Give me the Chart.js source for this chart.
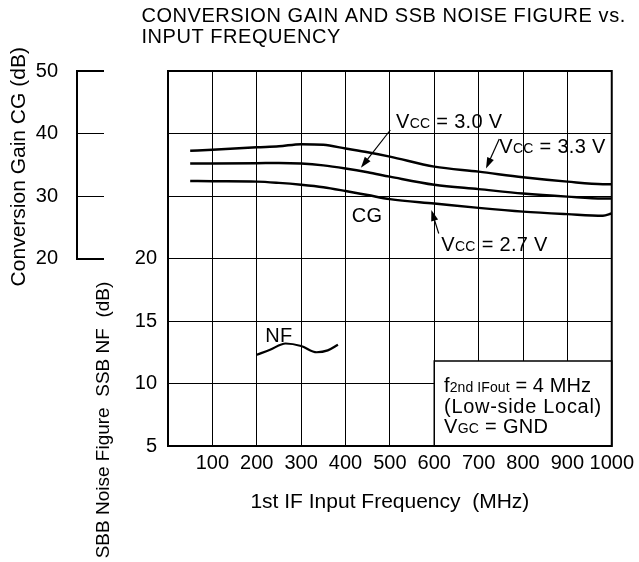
<!DOCTYPE html>
<html><head><meta charset="utf-8">
<script src="https://cdn.jsdelivr.net/npm/chart.js@4"></script>
<style>html,body{margin:0;padding:0;background:#fff}</style>
</head><body>
<canvas id="c" width="639" height="562"></canvas>
<script>
// ---- data ----
const freqs = [50, 100, 200, 250, 300, 350, 400, 450, 500, 600, 700, 800, 900, 980, 1000];
const cgVcc33 = [37.25, 37.4, 37.8, 37.95, 38.3, 38.2, 37.6, 37.0, 36.3, 34.7, 33.9, 33.0, 32.3, 31.9, 31.9];
const cgVcc30 = [35.2, 35.2, 35.25, 35.3, 35.2, 34.9, 34.4, 33.8, 33.1, 31.8, 31.1, 30.4, 29.9, 29.6, 29.6];
const cgVcc27 = [32.4, 32.35, 32.3, 32.1, 31.8, 31.4, 30.8, 30.15, 29.5, 28.8, 28.1, 27.5, 27.1, 26.85, 27.2];
const nfFreqs = [200, 230, 265, 300, 335, 360, 383];
const nfValues = [12.3, 12.7, 13.2, 13.0, 12.5, 12.65, 13.1];
const xTickValues = [100, 200, 300, 400, 500, 600, 700, 800, 900, 1000];
const nfTickValues = [5, 10, 15, 20];
const cgTickValues = [20, 30, 40, 50];
const titleLines = ['CONVERSION GAIN AND SSB NOISE FIGURE vs.', 'INPUT FREQUENCY'];
const xTitle = '1st IF Input Frequency  (MHz)';
const cgTitle = 'Conversion Gain CG (dB)';
const nfTitle = 'SBB Noise Figure  SSB NF  (dB)';

const FONT = '"Liberation Sans", Arial, Helvetica, sans-serif';
Chart.defaults.font.family = FONT;
Chart.defaults.font.size = 20;
Chart.defaults.color = '#000';

const toPts = (xs, ys) => xs.map((x, i) => ({x: x, y: ys[i]}));
const lineStyle = {borderColor: '#000', borderWidth: 2.5, pointRadius: 0, fill: false, cubicInterpolationMode: 'monotone'};

// annotation positions in data units
const notes = [
  {axis: 'cg', x: 513.8, y: 40.88, ls: 0.3, parts: [['V', 20], ['CC', 14], [' = 3.0 V', 20]]},
  {axis: 'cg', x: 746.5, y: 36.83, ls: 0.3, parts: [['V', 20], ['CC', 14], [' = 3.3 V', 20]]},
  {axis: 'cg', x: 413.9, y: 25.89, ls: 0.3, parts: [['CG', 20]]},
  {axis: 'cg', x: 615.9, y: 21.2, ls: 0.3, parts: [['V', 20], ['CC', 14], [' = 2.7 V', 20]]},
  {axis: 'nf', x: 219.2, y: 13.34, ls: 0.3, parts: [['NF', 20]]},
  {axis: 'nf', x: 622, y: 9.34, ls: 0.1, parts: [['f', 20], ['2nd IFout', 14], [' = 4 MHz', 20]]},
  {axis: 'nf', x: 622, y: 7.66, ls: 0.7, parts: [['(Low-side Local)', 20]]},
  {axis: 'nf', x: 622, y: 6.02, ls: 0.3, parts: [['V', 20], ['GC', 14], [' = GND', 20]]}
];
const arrows = [
  {from: [501.1, 40.56], to: [434.7, 34.53]},
  {from: [746.5, 39.12], to: [716.6, 34.4]},
  {from: [610.1, 24.0], to: [593.5, 27.76]}
];
const noteBox = {x0: 600, x1: 1000, top: 11.8, bottom: 5};

const decor = {
  id: 'decor',
  beforeDatasetsDraw(chart) {
    const ctx = chart.ctx, xs = chart.scales.x, nf = chart.scales.nf;
    const l = xs.getPixelForValue(noteBox.x0), r = xs.getPixelForValue(noteBox.x1);
    const t = nf.getPixelForValue(noteBox.top), b = nf.getPixelForValue(noteBox.bottom);
    ctx.save();
    ctx.fillStyle = '#fff';
    ctx.fillRect(l, t, r - l, b - t);
    ctx.strokeStyle = '#000';
    ctx.lineWidth = 1.5;
    ctx.strokeRect(l, t, r - l, b - t);
    ctx.restore();
  },
  afterDraw(chart) {
    const ctx = chart.ctx, a = chart.chartArea, sc = chart.scales;
    ctx.save();
    // frame
    ctx.strokeStyle = '#000';
    ctx.lineWidth = 2;
    ctx.strokeRect(a.left, a.top, a.right - a.left, a.bottom - a.top);
    // CG bracket vertical line
    const cg = sc.cg;
    const bx = cg.right - 27;
    ctx.beginPath();
    ctx.moveTo(bx, cg.getPixelForValue(50) - 1);
    ctx.lineTo(bx, cg.getPixelForValue(20) + 1);
    ctx.stroke();
    // notes
    ctx.fillStyle = '#000';
    ctx.textBaseline = 'alphabetic';
    ctx.textAlign = 'left';
    notes.forEach(n => {
      let x = sc.x.getPixelForValue(n.x);
      const y = sc[n.axis].getPixelForValue(n.y);
      ctx.letterSpacing = (n.ls || 0) + 'px';
      n.parts.forEach(p => {
        ctx.font = p[1] + 'px ' + FONT;
        ctx.fillText(p[0], x, y);
        x += ctx.measureText(p[0]).width;
      });
    });
    ctx.letterSpacing = '0px';
    // arrows
    ctx.lineWidth = 1.2;
    arrows.forEach(ar => {
      const x1 = sc.x.getPixelForValue(ar.from[0]), y1 = sc.cg.getPixelForValue(ar.from[1]);
      const x2 = sc.x.getPixelForValue(ar.to[0]), y2 = sc.cg.getPixelForValue(ar.to[1]);
      const ang = Math.atan2(y2 - y1, x2 - x1);
      const L = 11, W = 3.6;
      ctx.beginPath();
      ctx.moveTo(x1, y1);
      ctx.lineTo(x2 - Math.cos(ang) * (L - 2), y2 - Math.sin(ang) * (L - 2));
      ctx.stroke();
      ctx.beginPath();
      ctx.moveTo(x2, y2);
      ctx.lineTo(x2 - Math.cos(ang) * L - Math.sin(ang) * W, y2 - Math.sin(ang) * L + Math.cos(ang) * W);
      ctx.lineTo(x2 - Math.cos(ang) * L + Math.sin(ang) * W, y2 - Math.sin(ang) * L - Math.cos(ang) * W);
      ctx.closePath();
      ctx.fill();
    });
    // chart title
    ctx.font = '20px ' + FONT;
    ctx.letterSpacing = '0.55px';
    ctx.fillText(titleLines[0], 141.5, 22.3);
    ctx.fillText(titleLines[1], 141.5, 42.7);
    ctx.letterSpacing = '0px';
    // rotated axis titles
    ctx.textAlign = 'center';
    ctx.save();
    ctx.translate(cg.left + 25, (cg.getPixelForValue(50) + cg.getPixelForValue(20)) / 2 + 2);
    ctx.rotate(-Math.PI / 2);
    ctx.font = '21px ' + FONT;
    ctx.fillText(cgTitle, 0, 0);
    ctx.restore();
    ctx.save();
    const nfs = sc.nf;
    ctx.translate(nfs.left + 4.5, 420);
    ctx.rotate(-Math.PI / 2);
    ctx.font = '19px ' + FONT;
    ctx.fillText(nfTitle, 0, 0);
    ctx.restore();
    ctx.restore();
  }
};

new Chart(document.getElementById('c'), {
  type: 'line',
  data: {
    datasets: [
      Object.assign({label: 'Vcc = 3.3 V', data: toPts(freqs, cgVcc33), yAxisID: 'cg'}, lineStyle),
      Object.assign({label: 'Vcc = 3.0 V', data: toPts(freqs, cgVcc30), yAxisID: 'cg'}, lineStyle),
      Object.assign({label: 'Vcc = 2.7 V', data: toPts(freqs, cgVcc27), yAxisID: 'cg'}, lineStyle),
      Object.assign({label: 'NF', data: toPts(nfFreqs, nfValues), yAxisID: 'nf'}, lineStyle, {borderWidth: 2.2})
    ]
  },
  options: {
    responsive: false,
    devicePixelRatio: 1,
    animation: false,
    layout: {padding: {top: 71, right: 24, bottom: 0, left: 0}},
    plugins: {legend: {display: false}, tooltip: {enabled: false}, title: {display: false}},
    scales: {
      x: {
        type: 'linear', position: 'bottom', min: 0, max: 1000,
        afterBuildTicks: s => { s.ticks = [0].concat(xTickValues).map(v => ({value: v})); },
        ticks: {padding: 5, autoSkip: false, maxRotation: 0, callback: v => (xTickValues.includes(v) ? String(v) : '')},
        grid: {color: '#000', lineWidth: 1, drawTicks: false},
        border: {display: false},
        title: {display: true, text: xTitle, font: {size: 21}, padding: {top: 0, bottom: 47}},
        afterFit: s => { s.height = 116; }
      },
      nf: {
        type: 'linear', position: 'left', weight: 0, min: 5, max: 35,
        ticks: {stepSize: 5, padding: 11, callback: v => (nfTickValues.includes(v) ? String(v) : '')},
        grid: {color: '#000', lineWidth: 1, drawTicks: false},
        border: {display: false},
        afterFit: s => { s.width = 64; }
      },
      cg: {
        type: 'linear', position: 'left', weight: 1, min: -10, max: 50,
        afterBuildTicks: s => { s.ticks = cgTickValues.map(v => ({value: v})); },
        ticks: {padding: 18, callback: v => String(v)},
        grid: {drawOnChartArea: false, drawTicks: true, tickLength: 28, color: '#000',
               lineWidth: c => (c.tick && (c.tick.value === 20 || c.tick.value === 50)) ? 2 : 1},
        border: {display: false},
        afterFit: s => { s.width = 104; }
      }
    }
  },
  plugins: [decor]
});
</script>
</body></html>
